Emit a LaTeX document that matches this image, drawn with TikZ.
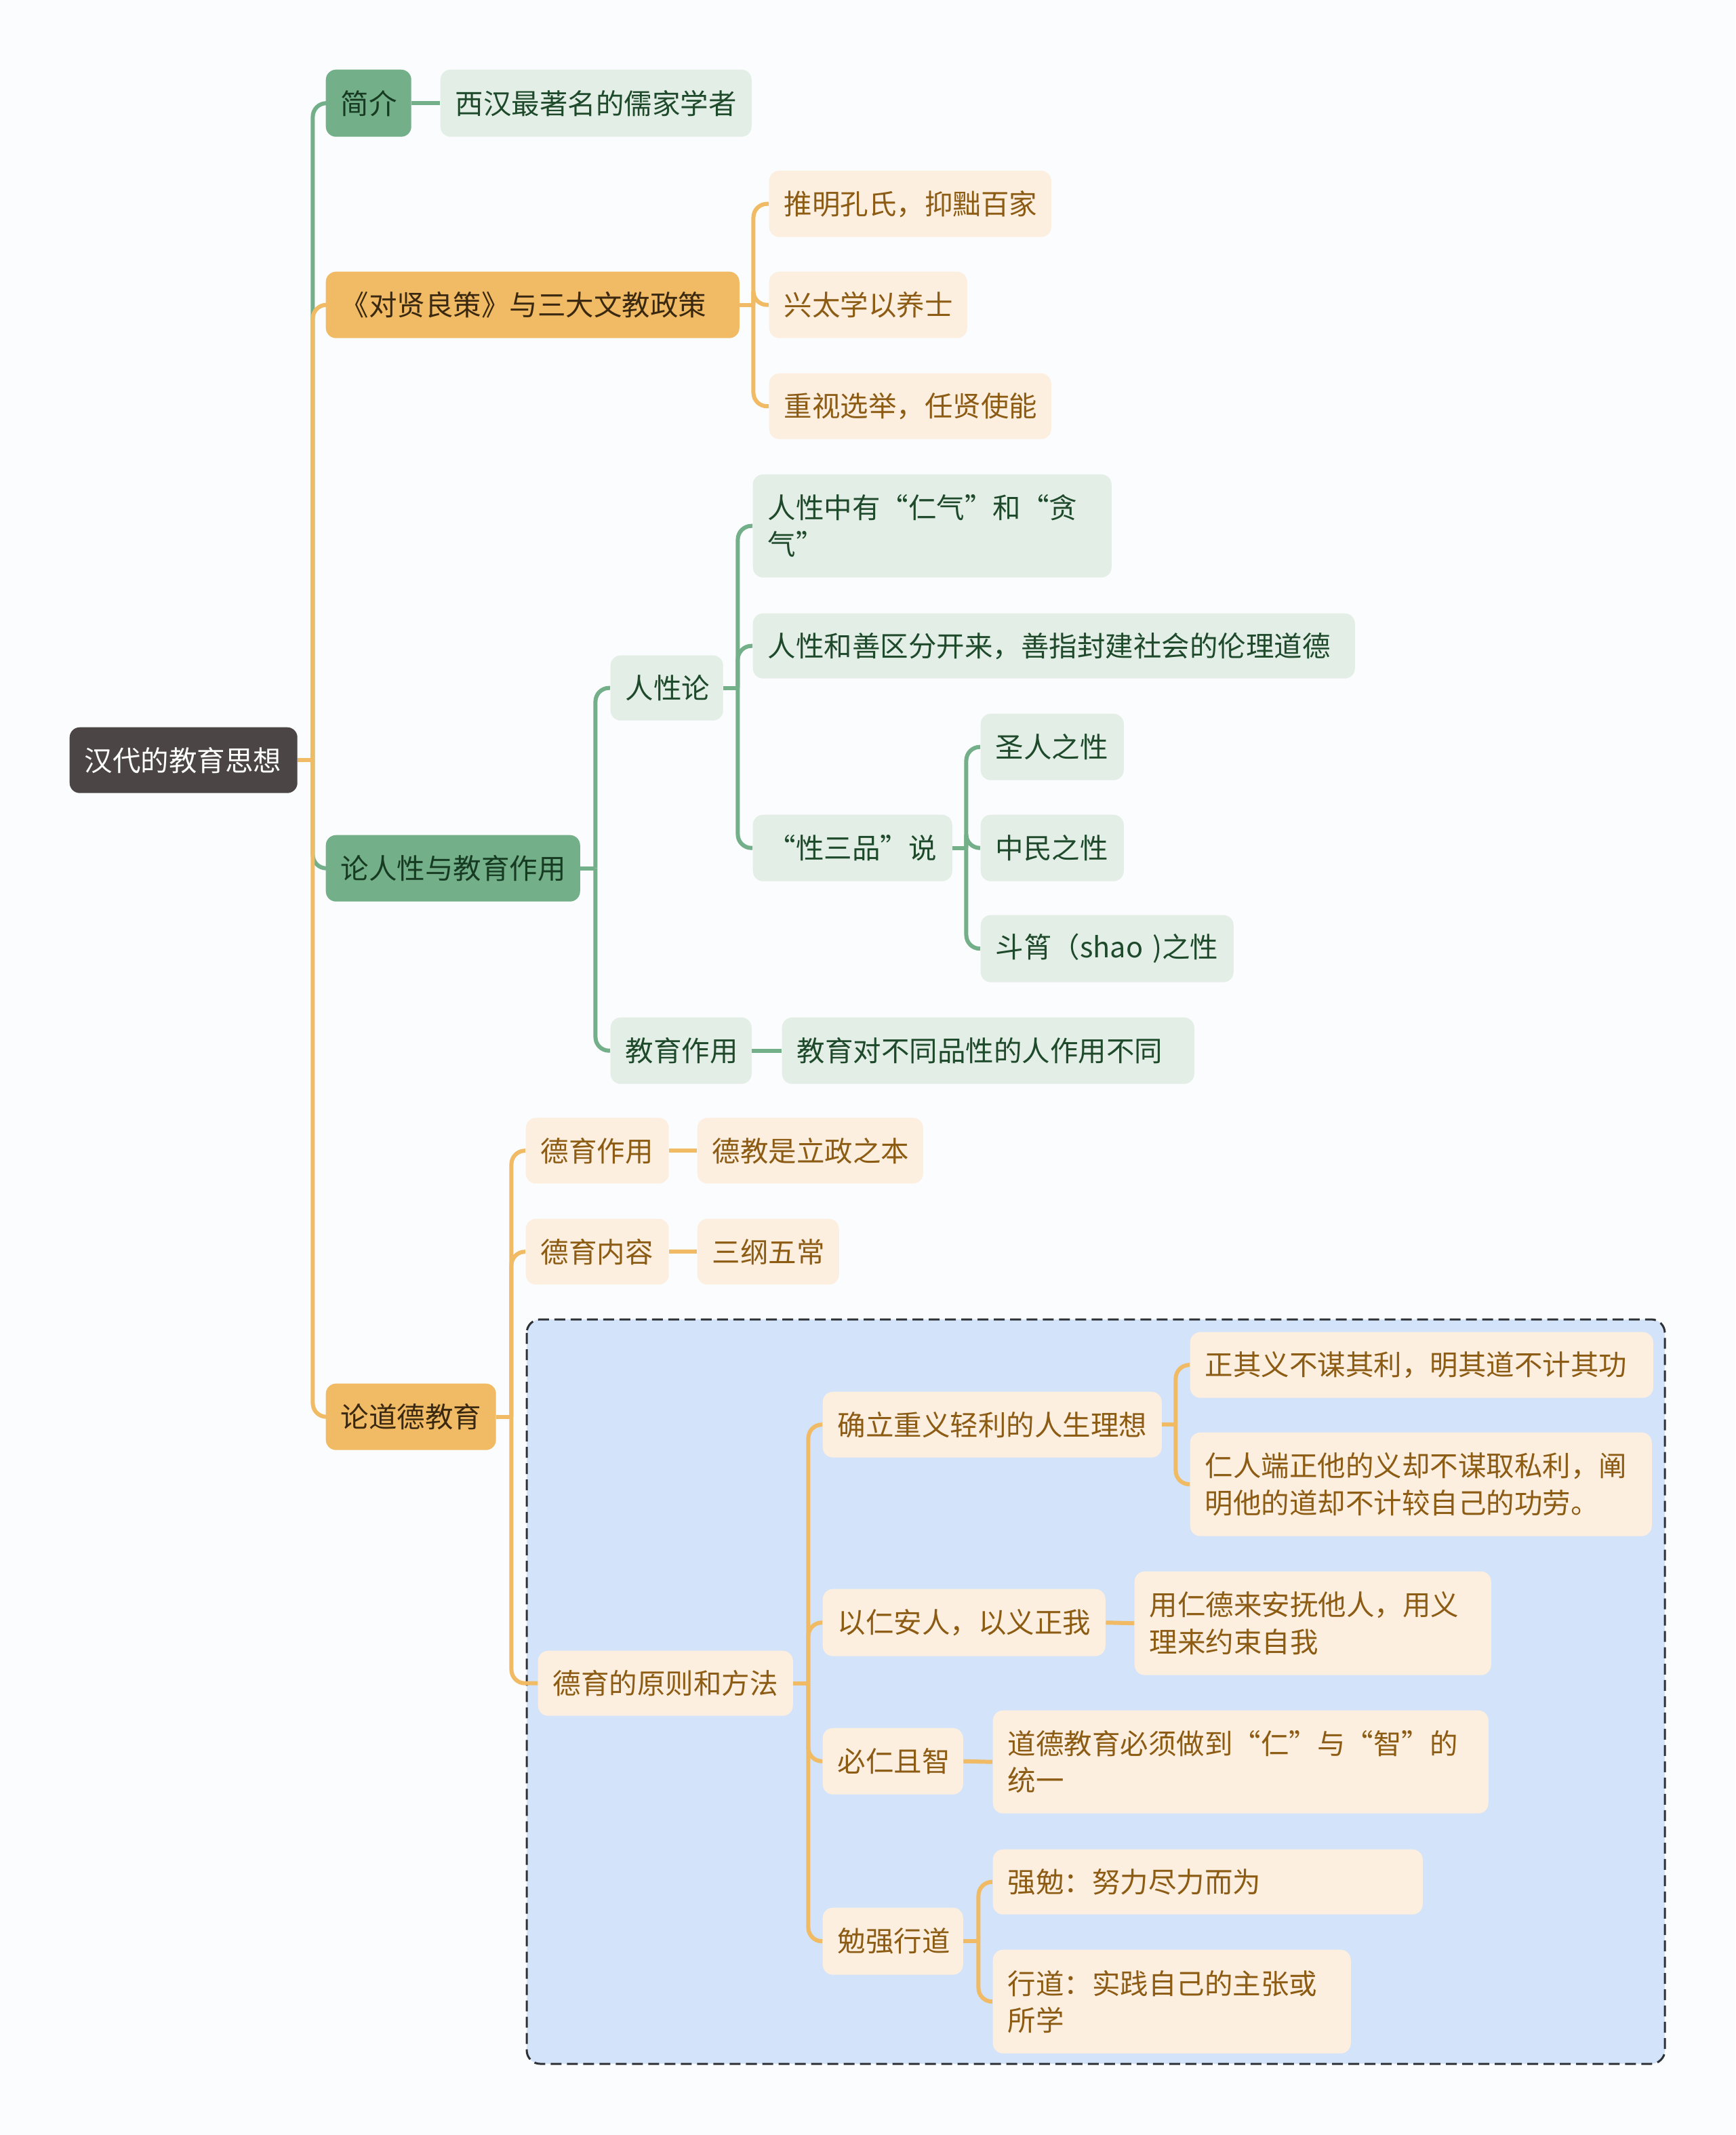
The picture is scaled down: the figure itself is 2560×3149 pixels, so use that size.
\documentclass[tikz,border=0pt]{standalone}
\usepackage{fontspec}
\setmainfont{Noto Sans CJK SC}
\usetikzlibrary{calc}
\pgfdeclarelayer{back}
\pgfdeclarelayer{mid}
\pgfsetlayers{back,mid,main}
\definecolor{bgc}{HTML}{FBFCFD}
\definecolor{rootf}{HTML}{4B4645}
\definecolor{gmain}{HTML}{73AF88}
\definecolor{gtxt}{HTML}{173B22}
\definecolor{glight}{HTML}{E3EEE6}
\definecolor{gltxt}{HTML}{1E4A2B}
\definecolor{omain}{HTML}{F0BB64}
\definecolor{otxt}{HTML}{3A2810}
\definecolor{olight}{HTML}{FDEFDF}
\definecolor{oltxt}{HTML}{8C5B14}
\definecolor{bluef}{HTML}{D2E3FA}
\definecolor{blueb}{HTML}{2E3135}
\tikzset{
  box/.style={rounded corners=0.15cm, inner ysep=0pt, inner xsep=0.22cm, align=left,
    font=\fontsize{11.8pt}{15.4pt}\selectfont},
  rootbox/.style={box, fill=rootf, text=white},
  gone/.style={box, fill=gmain, text=gtxt},
  gtwo/.style={box, fill=glight, text=gltxt},
  oone/.style={box, fill=omain, text=otxt},
  otwo/.style={box, fill=olight, text=oltxt},
  gline/.style={draw=gmain, line width=0.06cm},
  oline/.style={draw=omain, line width=0.06cm},
}
\newcommand\bx[7]{%
  \pgfmathsetmacro\myBW{(#5-#3)*0.01}%
  \pgfmathsetmacro\myBH{(#6-#4)*0.01}%
  \pgfmathsetmacro\myTW{(#5-#3-44)*0.01}%
  \node[#2, minimum width=\myBW cm, minimum height=\myBH cm, text width=\myTW cm, anchor=north west] (#1) at (#3,#4) {#7};%
}
\newcommand\cn[4]{%
  \draw[#1] (#2.east) -- ($(#2.east)+(#4,0)$);
  \draw[#1, rounded corners=0.2cm] ($(#2.east)+(#4,0)$) |- (#3.west);%
}
\begin{document}
\begin{tikzpicture}[x=0.01cm,y=-0.01cm]
\begin{pgfonlayer}{back}
\fill[bgc] (0,0) rectangle (2560,3149);
\useasboundingbox (0,0) rectangle (2560,3149);
\draw[fill=bluef, draw=blueb, line width=0.03cm, dash pattern=on 0.16cm off 0.08cm, rounded corners=0.2cm] (777,1946) rectangle (2456,3044);
\end{pgfonlayer}

\bx{root}{rootbox}{102}{1072}{438}{1169}{汉代的教育思想}
\bx{jj}{gone}{480}{102}{606}{201}{简介}
\bx{jj1}{gtwo}{649}{102}{1108}{201}{西汉最著名的儒家学者}
\bx{dx}{oone}{480}{400}{1090}{498}{《对贤良策》与三大文教政策}
\bx{dx1}{otwo}{1134}{251}{1550}{349}{推明孔氏，抑黜百家}
\bx{dx2}{otwo}{1134}{400}{1426}{498}{兴太学以养士}
\bx{dx3}{otwo}{1134}{550}{1550}{647}{重视选举，任贤使能}
\bx{lr}{gone}{480}{1231}{855}{1329}{论人性与教育作用}
\bx{rx}{gtwo}{900}{966}{1066}{1062}{人性论}
\bx{rx1}{gtwo}{1110}{699}{1639}{851}{人性中有“仁气”和“贪\\气”}
\bx{rx2}{gtwo}{1110}{904}{1998}{1000}{人性和善区分开来，善指封建社会的伦理道德}
\bx{rx3}{gtwo}{1110}{1201}{1404}{1299}{“性三品”说}
\bx{sp1}{gtwo}{1446}{1052}{1657}{1150}{圣人之性}
\bx{sp2}{gtwo}{1446}{1201}{1657}{1299}{中民之性}
\bx{sp3}{gtwo}{1446}{1349}{1819}{1448}{斗筲（shao )之性}
\bx{jy}{gtwo}{900}{1500}{1108}{1598}{教育作用}
\bx{jy1}{gtwo}{1153}{1500}{1761}{1598}{教育对不同品性的人作用不同}
\bx{dd}{oone}{480}{2040}{731}{2138}{论道德教育}
\bx{dz}{otwo}{775}{1648}{986}{1745}{德育作用}
\bx{dz1}{otwo}{1028}{1648}{1361}{1745}{德教是立政之本}
\bx{dn}{otwo}{775}{1797}{986}{1894}{德育内容}
\bx{dn1}{otwo}{1028}{1797}{1237}{1894}{三纲五常}
\bx{dy}{otwo}{793}{2434}{1169}{2530}{德育的原则和方法}
\bx{q1}{otwo}{1213}{2052}{1713}{2149}{确立重义轻利的人生理想}
\bx{q11}{otwo}{1755}{1964}{2438}{2061}{正其义不谋其利，明其道不计其功}
\bx{q12}{otwo}{1755}{2112}{2436}{2265}{仁人端正他的义却不谋取私利，阐\\明他的道却不计较自己的功劳。}
\bx{q2}{otwo}{1213}{2343}{1630}{2442}{以仁安人，以义正我}
\bx{q21}{otwo}{1673}{2317}{2199}{2470}{用仁德来安抚他人，用义\\理来约束自我}
\bx{q3}{otwo}{1213}{2548}{1420}{2646}{必仁且智}
\bx{q31}{otwo}{1464}{2522}{2195}{2674}{道德教育必须做到“仁”与“智”的\\统一}
\bx{q4}{otwo}{1213}{2813}{1420}{2912}{勉强行道}
\bx{q41}{otwo}{1464}{2727}{2098}{2823}{强勉：努力尽力而为}
\bx{q42}{otwo}{1464}{2875}{1992}{3028}{行道：实践自己的主张或\\所学}

\begin{pgfonlayer}{mid}
\cn{gline}{root}{jj}{22}
\cn{gline}{root}{lr}{22}
\cn{oline}{root}{dx}{22}
\cn{oline}{root}{dd}{22}
\draw[gline] (jj.east) -- (jj1.west);
\cn{oline}{dx}{dx1}{20}
\cn{oline}{dx}{dx2}{20}
\cn{oline}{dx}{dx3}{20}
\cn{gline}{lr}{rx}{22}
\cn{gline}{lr}{jy}{22}
\cn{gline}{rx}{rx1}{21}
\cn{gline}{rx}{rx2}{21}
\cn{gline}{rx}{rx3}{21}
\cn{gline}{rx3}{sp1}{20}
\cn{gline}{rx3}{sp2}{20}
\cn{gline}{rx3}{sp3}{20}
\draw[gline] (jy.east) -- (jy1.west);
\cn{oline}{dd}{dz}{22}
\cn{oline}{dd}{dn}{22}
\cn{oline}{dd}{dy}{22}
\draw[oline] (dz.east) -- (dz1.west);
\draw[oline] (dn.east) -- (dn1.west);
\cn{oline}{dy}{q1}{22}
\cn{oline}{dy}{q2}{22}
\cn{oline}{dy}{q3}{22}
\cn{oline}{dy}{q4}{22}
\cn{oline}{q1}{q11}{20}
\cn{oline}{q1}{q12}{20}
\draw[oline] (q2.east) -- (q21.west);
\draw[oline] (q3.east) -- (q31.west);
\cn{oline}{q4}{q41}{22}
\cn{oline}{q4}{q42}{22}
\end{pgfonlayer}
\end{tikzpicture}
\end{document}
